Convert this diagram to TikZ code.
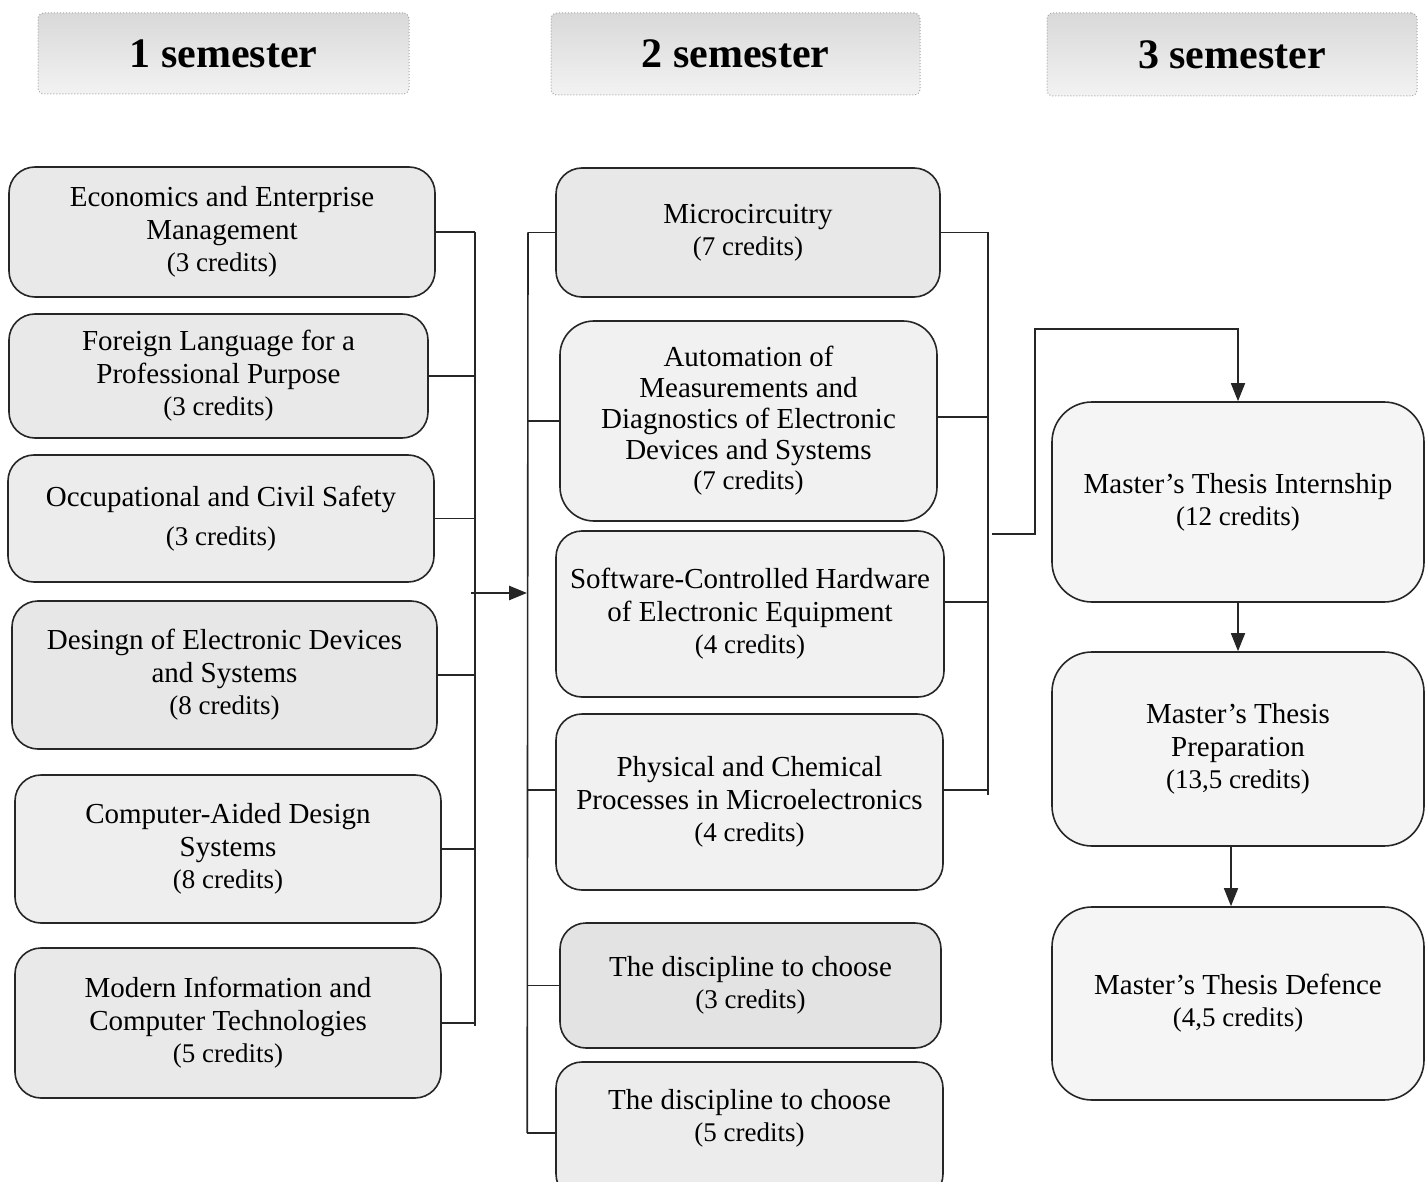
\documentclass[tikz,border=0pt]{standalone}
\usepackage{fontspec}
\setmainfont{Liberation Serif}
\usetikzlibrary{arrows.meta}
\tikzset{
  box/.style={draw=black!85, line width=0.8pt, rounded corners=13pt, align=center, inner sep=0pt,
    font=\fontsize{14.5}{16.5}\selectfont},
  rbox/.style={box, rounded corners=20pt},
  hdr/.style={draw=gray!70, densely dotted, line width=0.5pt, rounded corners=3pt,
    top color=gray!30, bottom color=gray!10, font=\fontsize{21}{24}\selectfont\bfseries, inner sep=0pt},
  txt/.style={align=center, inner sep=0pt, font=\fontsize{14.5}{16.5}\selectfont},
  ln/.style={draw=black!85, line width=0.8pt},
  arr/.style={ln, -{Triangle[length=9pt,width=7pt]}},
}
\newcommand{\credl}[1]{\\[-0.5pt]{\fontsize{13.5}{16}\selectfont(#1)}}
\begin{document}
\begin{tikzpicture}[x=0.5pt,y=-0.5pt]
\useasboundingbox (0,0) rectangle (1425,1182);
\clip (0,0) rectangle (1425,1182);
% headers
\node[hdr, minimum width=185.5pt, minimum height=40.5pt] (H1) at (223.5,53.5) {1 semester};
\node[hdr, minimum width=184.5pt, minimum height=41pt] (H2) at (735.5,54) {2 semester};
\node[hdr, minimum width=185pt, minimum height=41.5pt] (H3) at (1232,54.5) {3 semester};
% semester 1
\node[box, fill=gray!17, minimum width=213pt, minimum height=65pt] (L1) at (222,232) {Economics and Enterprise\\Management\credl{3 credits}};
\node[box, fill=gray!17, minimum width=209.5pt, minimum height=62pt] (L2) at (218.5,376) {Foreign Language for a\\Professional Purpose\credl{3 credits}};
\node[box, fill=gray!15, minimum width=213pt, minimum height=63.5pt] (L3) at (221,518.5) {Occupational and Civil Safety\\[3pt]{\fontsize{13.5}{16}\selectfont(3 credits)}};
\node[box, fill=gray!19, minimum width=212.5pt, minimum height=74pt] (L4) at (224.5,675) {Desingn of Electronic Devices\\and Systems\credl{8 credits}};
\node[box, fill=gray!13, minimum width=213pt, minimum height=74pt] (L5) at (228,849) {Computer-Aided Design\\Systems\credl{8 credits}};
\node[box, fill=gray!17, minimum width=213pt, minimum height=75pt] (L6) at (228,1023) {Modern Information and\\Computer Technologies\credl{5 credits}};
% semester 2
\node[box, fill=gray!18, minimum width=192pt, minimum height=64.5pt] (M1) at (748,232.5) {Microcircuitry\credl{7 credits}};
\node[box, fill=gray!11, rounded corners=17pt, minimum width=188.5pt, minimum height=100pt, font=\fontsize{14.5}{15.5}\selectfont] (M2) at (748.5,421) {Automation of\\Measurements and\\Diagnostics of Electronic\\Devices and Systems\credl{7 credits}};
\node[box, fill=gray!11, minimum width=194pt, minimum height=83pt] (M3) at (750,614) {Software-Controlled Hardware\\of Electronic Equipment\credl{4 credits}};
\node[box, fill=gray!11, minimum width=193.5pt, minimum height=88pt] (M4) at (749.5,802) {Physical and Chemical\\Processes in Microelectronics\credl{4 credits}};
\node[box, fill=gray!22, minimum width=190.5pt, minimum height=62.5pt] (M5) at (750.5,985.5) {The discipline to choose\credl{3 credits}};
\node[box, fill=gray!15, minimum width=193.5pt, minimum height=69pt] (M6) at (749.5,1131) {};
\node[txt] (M6t) at (749.5,1118) {The discipline to choose\credl{5 credits}};
% semester 3
\node[rbox, fill=gray!8, minimum width=186pt, minimum height=100pt] (R1) at (1238,502) {Master's Thesis Internship\credl{12 credits}};
\node[rbox, fill=gray!9, minimum width=186pt, minimum height=97pt] (R2) at (1238,749) {Master's Thesis\\Preparation\credl{13,5 credits}};
\node[rbox, fill=gray!8, minimum width=186pt, minimum height=96.5pt] (R3) at (1238,1003.5) {Master's Thesis Defence\credl{4,5 credits}};
% left bus
\coordinate (busL) at (475,0);
\coordinate (busM) at (528,0);
\coordinate (busR) at (988,0);
\foreach \n in {L1,L2,L3,L4,L5,L6} {\draw[ln] (\n.east) -- (\n.east -| busL);}
\draw[ln] (L1.east -| busL) -- ([yshift=-1.5pt]L6.east -| busL);
\coordinate (aL) at (471,593);
\coordinate (aR) at (527,593);
\draw[arr, line width=1.3pt] (aL) -- (aR);
% middle-left bus
\foreach \n in {M1,M2,M5} {\draw[ln] (\n.west) -- (\n.west -| busM);}
\draw[ln] ([yshift=6pt]M4.west) -- ++(-14pt,0);
\draw[ln] ([yshift=-1pt]M6.west) -- ++(-14pt,0) coordinate (m6s);
\draw[ln] (M1.west -| busM) -- (m6s);
% middle-right bus
\draw[ln] (M1.east) -- (M1.east -| busR);
\draw[ln] ([yshift=2pt]M2.east) -- ([yshift=2pt]M2.east -| busR);
\draw[ln] ([yshift=6pt]M3.east) -- ([yshift=6pt]M3.east -| busR);
\draw[ln] ([yshift=6pt]M4.east) -- ([yshift=6pt]M4.east -| busR) coordinate (m4s);
\draw[ln] (M1.east -| busR) -- ([yshift=-2.5pt]m4s);
% to semester 3
\coordinate (c1) at (992,534);
\coordinate (c2) at (1035,329);
\draw[arr] (c1) -| (c2) -| (R1.north);
\draw[arr] (R1.south) -- (R2.north);
\draw[arr] ([xshift=-3.5pt]R2.south) -- ([xshift=-3.5pt]R3.north);
\end{tikzpicture}
\end{document}
